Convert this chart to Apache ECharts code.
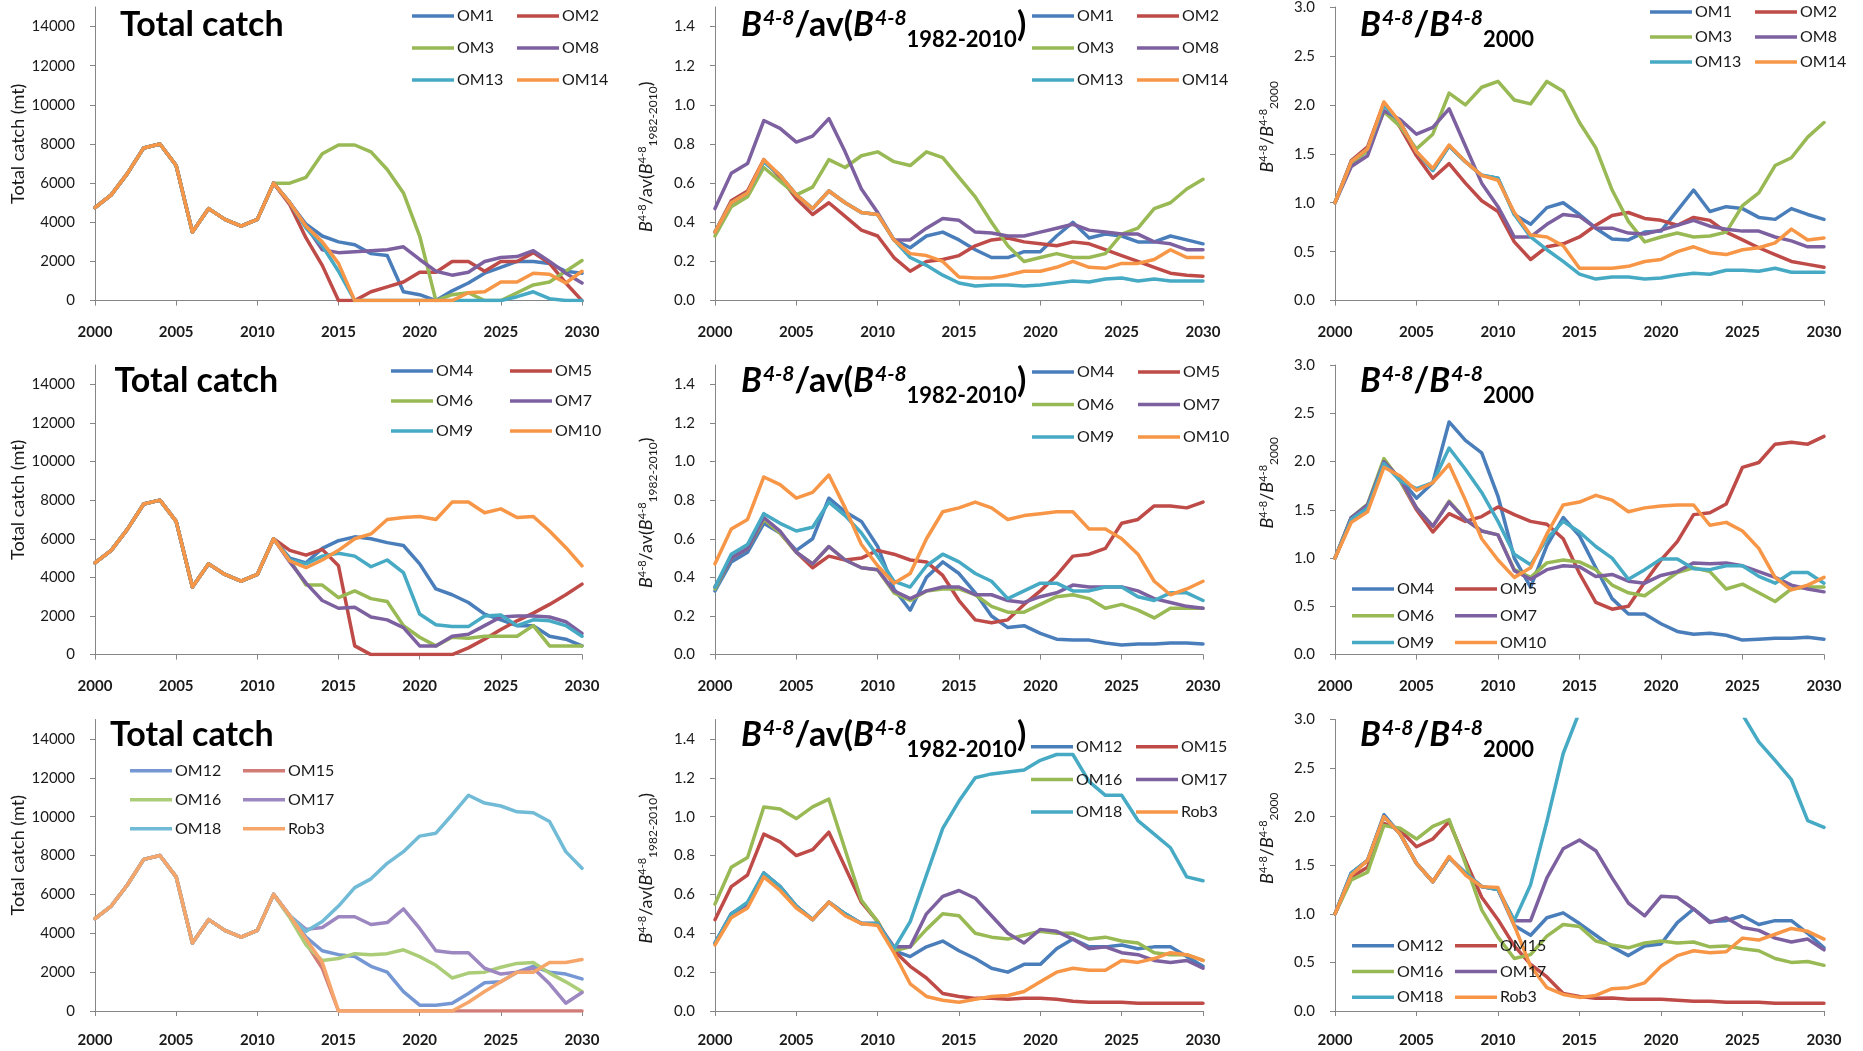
<!DOCTYPE html>
<html>
<head>
<meta charset="utf-8">
<title>Total catch and spawning biomass projections</title>
<script src="https://cdn.jsdelivr.net/npm/echarts@6/dist/echarts.min.js"></script>
<style>
  html, body { margin: 0; padding: 0; background: #ffffff; }
  #chart { width: 1863px; height: 1051px; }
</style>
</head>
<body>
<div id="chart"></div>
<script>
// ---------------------------------------------------------------
// Data: projection years and series values
// ---------------------------------------------------------------
const years = [2000, 2001, 2002, 2003, 2004, 2005, 2006, 2007, 2008, 2009, 2010,
               2011, 2012, 2013, 2014, 2015, 2016, 2017, 2018, 2019, 2020,
               2021, 2022, 2023, 2024, 2025, 2026, 2027, 2028, 2029, 2030];

// Observed total catch 2000-2011 (mt), common to every operating model
const catchHistory = [4750, 5400, 6500, 7800, 8000, 6900, 3500, 4700, 4150, 3800, 4150, 6000];

// Projected total catch 2012-2030 (mt)
const catchOM1  = catchHistory.concat([5000, 3900, 3300, 3000, 2850, 2400, 2300, 450, 300, 0, 500, 900, 1400, 1700, 2000, 2000, 1900, 1500, 1400]);
const catchOM2  = catchHistory.concat([4900, 3200, 1800, 0, 0, 450, 700, 950, 1450, 1450, 2000, 2000, 1500, 2000, 2000, 2450, 1900, 900, 0]);
const catchOM3  = catchHistory.concat([6000, 6300, 7500, 7950, 7950, 7600, 6700, 5500, 3300, 0, 300, 400, 0, 0, 400, 800, 950, 1500, 2050]);
const catchOM8  = catchHistory.concat([5000, 3800, 2600, 2450, 2500, 2550, 2600, 2750, 2100, 1500, 1300, 1450, 2000, 2200, 2250, 2550, 2000, 1400, 900]);
const catchOM13 = catchHistory.concat([5000, 3700, 2800, 1500, 0, 0, 0, 0, 0, 0, 0, 0, 0, 0, 200, 450, 100, 0, 0]);
const catchOM14 = catchHistory.concat([5000, 3800, 3000, 1900, 0, 0, 0, 0, 0, 0, 0, 400, 450, 950, 950, 1400, 1350, 900, 1500]);

const catchOM4  = catchHistory.concat([5000, 4750, 5500, 5900, 6100, 6000, 5800, 5650, 4700, 3400, 3100, 2700, 2100, 1800, 1500, 1500, 950, 800, 450]);
const catchOM5  = catchHistory.concat([5400, 5150, 5450, 4600, 450, 0, 0, 0, 0, 0, 0, 350, 800, 1300, 1750, 2150, 2600, 3100, 3650]);
const catchOM6  = catchHistory.concat([4900, 3600, 3600, 2950, 3300, 2900, 2750, 1500, 900, 450, 900, 850, 950, 950, 950, 1500, 450, 450, 450]);
const catchOM7  = catchHistory.concat([4800, 3700, 2800, 2400, 2450, 1950, 1800, 1400, 450, 450, 950, 1050, 1500, 1950, 2000, 2000, 1950, 1700, 1100]);
const catchOM9  = catchHistory.concat([4900, 4700, 5100, 5250, 5100, 4550, 4900, 4250, 2100, 1550, 1450, 1450, 2000, 2050, 1500, 1800, 1750, 1500, 950]);
const catchOM10 = catchHistory.concat([4850, 4500, 4900, 5400, 6000, 6250, 7000, 7100, 7150, 7000, 7900, 7900, 7350, 7550, 7100, 7150, 6400, 5550, 4600]);

const catchOM12 = catchHistory.concat([4900, 3800, 3100, 2900, 2800, 2300, 2000, 1000, 300, 300, 400, 900, 1450, 1500, 2000, 2300, 2000, 1900, 1650]);
const catchOM15 = catchHistory.concat([4900, 3500, 2200, 0, 0, 0, 0, 0, 0, 0, 0, 0, 0, 0, 0, 0, 0, 0, 0]);
const catchOM16 = catchHistory.concat([4800, 3400, 2600, 2700, 2950, 2900, 2950, 3150, 2800, 2350, 1700, 1950, 2000, 2250, 2450, 2500, 1950, 1500, 1000]);
const catchOM17 = catchHistory.concat([4900, 4200, 4300, 4850, 4850, 4450, 4550, 5250, 4250, 3100, 3000, 3000, 2200, 1900, 2000, 2200, 1400, 400, 950]);
const catchOM18 = catchHistory.concat([4900, 4100, 4600, 5400, 6350, 6800, 7600, 8200, 9000, 9150, 10100, 11100, 10700, 10550, 10250, 10200, 9750, 8200, 7350]);
const catchRob3 = catchHistory.concat([4900, 3700, 2500, 0, 0, 0, 0, 0, 0, 0, 0, 450, 1000, 1500, 2000, 2000, 2500, 2500, 2650]);

// B(4-8) relative to its 1982-2010 average
const relOM1  = [0.35, 0.50, 0.55, 0.71, 0.64, 0.54, 0.47, 0.56, 0.50, 0.45, 0.44, 0.31, 0.27, 0.33, 0.35, 0.31, 0.26, 0.22, 0.22, 0.25, 0.25, 0.33, 0.40, 0.32, 0.34, 0.33, 0.30, 0.30, 0.33, 0.31, 0.29];
const relOM2  = [0.35, 0.51, 0.56, 0.72, 0.63, 0.52, 0.44, 0.50, 0.43, 0.36, 0.33, 0.22, 0.15, 0.20, 0.21, 0.23, 0.28, 0.31, 0.32, 0.30, 0.29, 0.28, 0.30, 0.29, 0.26, 0.23, 0.20, 0.17, 0.14, 0.13, 0.125];
const relOM3  = [0.33, 0.48, 0.53, 0.68, 0.61, 0.54, 0.58, 0.72, 0.68, 0.74, 0.76, 0.71, 0.69, 0.76, 0.73, 0.63, 0.53, 0.40, 0.28, 0.20, 0.22, 0.24, 0.22, 0.22, 0.24, 0.34, 0.37, 0.47, 0.50, 0.57, 0.62];
const relOM8  = [0.47, 0.65, 0.70, 0.92, 0.88, 0.81, 0.84, 0.93, 0.76, 0.57, 0.45, 0.31, 0.31, 0.37, 0.42, 0.41, 0.35, 0.345, 0.33, 0.33, 0.35, 0.37, 0.39, 0.36, 0.35, 0.34, 0.34, 0.30, 0.29, 0.26, 0.26];
const relOM13 = [0.35, 0.50, 0.55, 0.71, 0.64, 0.54, 0.47, 0.56, 0.50, 0.45, 0.44, 0.31, 0.22, 0.18, 0.13, 0.09, 0.075, 0.08, 0.08, 0.075, 0.08, 0.09, 0.10, 0.095, 0.11, 0.115, 0.10, 0.11, 0.10, 0.10, 0.10];
const relOM14 = [0.35, 0.50, 0.55, 0.72, 0.64, 0.54, 0.47, 0.56, 0.50, 0.45, 0.44, 0.31, 0.24, 0.23, 0.20, 0.12, 0.115, 0.115, 0.13, 0.15, 0.15, 0.17, 0.20, 0.17, 0.165, 0.19, 0.19, 0.21, 0.26, 0.22, 0.22];

const relOM4  = [0.33, 0.48, 0.53, 0.68, 0.63, 0.54, 0.60, 0.81, 0.74, 0.69, 0.56, 0.34, 0.23, 0.40, 0.48, 0.42, 0.32, 0.20, 0.14, 0.15, 0.11, 0.08, 0.075, 0.075, 0.06, 0.05, 0.055, 0.055, 0.06, 0.06, 0.055];
const relOM5  = [0.35, 0.50, 0.55, 0.70, 0.63, 0.53, 0.45, 0.51, 0.49, 0.50, 0.54, 0.52, 0.49, 0.48, 0.41, 0.28, 0.18, 0.165, 0.18, 0.26, 0.33, 0.41, 0.51, 0.52, 0.55, 0.68, 0.70, 0.77, 0.77, 0.76, 0.79];
const relOM6  = [0.34, 0.50, 0.55, 0.70, 0.63, 0.53, 0.47, 0.56, 0.49, 0.45, 0.44, 0.32, 0.28, 0.33, 0.34, 0.34, 0.31, 0.25, 0.22, 0.22, 0.26, 0.30, 0.31, 0.29, 0.24, 0.26, 0.23, 0.19, 0.24, 0.24, 0.24];
const relOM7  = [0.35, 0.50, 0.55, 0.71, 0.64, 0.53, 0.47, 0.56, 0.49, 0.45, 0.44, 0.33, 0.29, 0.33, 0.35, 0.35, 0.31, 0.31, 0.28, 0.27, 0.30, 0.32, 0.36, 0.35, 0.35, 0.35, 0.33, 0.29, 0.27, 0.25, 0.24];
const relOM9  = [0.35, 0.52, 0.57, 0.73, 0.68, 0.64, 0.66, 0.79, 0.72, 0.63, 0.51, 0.38, 0.35, 0.46, 0.52, 0.48, 0.42, 0.38, 0.29, 0.33, 0.37, 0.37, 0.33, 0.33, 0.35, 0.35, 0.30, 0.28, 0.32, 0.32, 0.28];
const relOM10 = [0.47, 0.65, 0.70, 0.92, 0.88, 0.81, 0.84, 0.93, 0.76, 0.57, 0.46, 0.37, 0.42, 0.60, 0.74, 0.76, 0.79, 0.76, 0.70, 0.72, 0.73, 0.74, 0.74, 0.65, 0.65, 0.60, 0.52, 0.38, 0.31, 0.34, 0.38];

const relOM12 = [0.35, 0.50, 0.55, 0.71, 0.64, 0.54, 0.47, 0.56, 0.50, 0.45, 0.45, 0.31, 0.28, 0.33, 0.36, 0.31, 0.27, 0.22, 0.20, 0.24, 0.24, 0.32, 0.37, 0.33, 0.33, 0.34, 0.32, 0.33, 0.33, 0.28, 0.23];
const relOM15 = [0.47, 0.64, 0.70, 0.91, 0.87, 0.80, 0.83, 0.92, 0.74, 0.56, 0.46, 0.31, 0.23, 0.17, 0.09, 0.075, 0.065, 0.065, 0.06, 0.065, 0.065, 0.06, 0.05, 0.045, 0.045, 0.045, 0.04, 0.04, 0.04, 0.04, 0.04];
const relOM16 = [0.55, 0.74, 0.79, 1.05, 1.04, 0.99, 1.05, 1.09, 0.83, 0.57, 0.46, 0.31, 0.33, 0.42, 0.50, 0.49, 0.40, 0.38, 0.37, 0.39, 0.41, 0.40, 0.40, 0.37, 0.38, 0.36, 0.35, 0.30, 0.29, 0.29, 0.26];
const relOM17 = [0.35, 0.50, 0.55, 0.71, 0.64, 0.54, 0.47, 0.56, 0.50, 0.45, 0.45, 0.33, 0.33, 0.50, 0.59, 0.62, 0.58, 0.49, 0.40, 0.35, 0.42, 0.41, 0.37, 0.32, 0.33, 0.30, 0.29, 0.26, 0.25, 0.26, 0.22];
const relOM18 = [0.35, 0.50, 0.56, 0.71, 0.64, 0.54, 0.47, 0.56, 0.50, 0.45, 0.45, 0.32, 0.46, 0.70, 0.94, 1.08, 1.20, 1.22, 1.23, 1.24, 1.29, 1.32, 1.32, 1.18, 1.11, 1.11, 0.98, 0.91, 0.84, 0.69, 0.67];
const relRob3 = [0.34, 0.48, 0.53, 0.69, 0.62, 0.53, 0.47, 0.56, 0.49, 0.45, 0.44, 0.30, 0.14, 0.075, 0.055, 0.045, 0.06, 0.075, 0.08, 0.10, 0.15, 0.20, 0.22, 0.21, 0.21, 0.26, 0.25, 0.27, 0.30, 0.29, 0.26];

// B(4-8) relative to its 2000 level
const b00OM1  = [1.0, 1.42, 1.55, 2.0, 1.82, 1.52, 1.33, 1.58, 1.42, 1.28, 1.25, 0.88, 0.78, 0.95, 1.0, 0.88, 0.74, 0.63, 0.62, 0.70, 0.71, 0.92, 1.13, 0.91, 0.96, 0.94, 0.85, 0.83, 0.94, 0.88, 0.83];
const b00OM2  = [1.0, 1.43, 1.57, 2.02, 1.77, 1.48, 1.25, 1.40, 1.20, 1.02, 0.91, 0.60, 0.42, 0.55, 0.58, 0.65, 0.77, 0.87, 0.90, 0.84, 0.82, 0.77, 0.85, 0.82, 0.70, 0.62, 0.54, 0.47, 0.40, 0.37, 0.34];
const b00OM3  = [1.0, 1.40, 1.53, 1.93, 1.78, 1.55, 1.70, 2.12, 2.00, 2.18, 2.24, 2.05, 2.01, 2.24, 2.14, 1.82, 1.56, 1.13, 0.81, 0.60, 0.65, 0.69, 0.65, 0.66, 0.70, 0.97, 1.10, 1.38, 1.46, 1.67, 1.82];
const b00OM8  = [1.0, 1.37, 1.48, 1.94, 1.85, 1.70, 1.77, 1.96, 1.58, 1.20, 0.96, 0.65, 0.65, 0.78, 0.88, 0.86, 0.74, 0.74, 0.69, 0.68, 0.72, 0.77, 0.82, 0.76, 0.73, 0.71, 0.71, 0.65, 0.61, 0.55, 0.55];
const b00OM13 = [1.0, 1.42, 1.55, 2.0, 1.82, 1.52, 1.33, 1.58, 1.42, 1.28, 1.25, 0.88, 0.65, 0.52, 0.40, 0.27, 0.22, 0.24, 0.24, 0.22, 0.23, 0.26, 0.28, 0.27, 0.31, 0.31, 0.30, 0.33, 0.29, 0.29, 0.29];
const b00OM14 = [1.0, 1.42, 1.55, 2.03, 1.82, 1.52, 1.35, 1.59, 1.42, 1.28, 1.23, 0.90, 0.67, 0.65, 0.56, 0.33, 0.33, 0.33, 0.35, 0.40, 0.42, 0.50, 0.55, 0.49, 0.47, 0.52, 0.54, 0.59, 0.73, 0.62, 0.64];

const b00OM4  = [1.0, 1.42, 1.52, 2.0, 1.82, 1.62, 1.78, 2.41, 2.22, 2.09, 1.64, 1.00, 0.70, 1.13, 1.42, 1.23, 0.90, 0.58, 0.42, 0.42, 0.32, 0.24, 0.21, 0.22, 0.20, 0.15, 0.16, 0.17, 0.17, 0.18, 0.16];
const b00OM5  = [1.0, 1.40, 1.53, 2.01, 1.80, 1.50, 1.27, 1.46, 1.38, 1.43, 1.53, 1.45, 1.38, 1.35, 1.20, 0.84, 0.54, 0.47, 0.50, 0.75, 0.98, 1.17, 1.45, 1.47, 1.56, 1.94, 1.99, 2.18, 2.20, 2.18, 2.26];
const b00OM6  = [1.0, 1.42, 1.56, 2.03, 1.80, 1.52, 1.33, 1.59, 1.40, 1.28, 1.24, 0.88, 0.80, 0.95, 0.98, 0.96, 0.88, 0.72, 0.64, 0.61, 0.73, 0.85, 0.90, 0.86, 0.68, 0.73, 0.64, 0.55, 0.68, 0.70, 0.70];
const b00OM7  = [1.0, 1.42, 1.55, 2.0, 1.82, 1.52, 1.33, 1.58, 1.40, 1.28, 1.24, 0.87, 0.78, 0.88, 0.92, 0.91, 0.81, 0.83, 0.76, 0.74, 0.82, 0.86, 0.95, 0.94, 0.95, 0.92, 0.86, 0.80, 0.72, 0.68, 0.65];
const b00OM9  = [1.0, 1.40, 1.52, 1.98, 1.80, 1.72, 1.78, 2.14, 1.92, 1.68, 1.38, 1.04, 0.93, 1.20, 1.38, 1.27, 1.12, 1.00, 0.78, 0.88, 0.99, 0.99, 0.89, 0.88, 0.92, 0.92, 0.81, 0.74, 0.85, 0.85, 0.74];
const b00OM10 = [1.0, 1.37, 1.48, 1.94, 1.85, 1.70, 1.78, 1.97, 1.60, 1.20, 0.98, 0.80, 0.90, 1.25, 1.55, 1.58, 1.65, 1.60, 1.48, 1.52, 1.54, 1.55, 1.55, 1.34, 1.37, 1.28, 1.10, 0.80, 0.67, 0.72, 0.80];

const b00OM12 = [1.0, 1.42, 1.55, 2.02, 1.82, 1.52, 1.33, 1.58, 1.42, 1.28, 1.25, 0.88, 0.78, 0.96, 1.01, 0.90, 0.78, 0.66, 0.57, 0.67, 0.69, 0.91, 1.05, 0.92, 0.93, 0.98, 0.89, 0.93, 0.93, 0.80, 0.65];
const b00OM15 = [1.0, 1.38, 1.48, 1.93, 1.86, 1.69, 1.77, 1.95, 1.55, 1.17, 0.94, 0.67, 0.48, 0.35, 0.18, 0.15, 0.13, 0.135, 0.12, 0.12, 0.12, 0.11, 0.10, 0.10, 0.09, 0.09, 0.09, 0.08, 0.08, 0.08, 0.08];
const b00OM16 = [1.0, 1.35, 1.43, 1.91, 1.88, 1.77, 1.90, 1.97, 1.52, 1.04, 0.76, 0.54, 0.58, 0.77, 0.89, 0.87, 0.72, 0.68, 0.65, 0.70, 0.72, 0.70, 0.71, 0.66, 0.67, 0.64, 0.62, 0.54, 0.50, 0.51, 0.47];
const b00OM17 = [1.0, 1.42, 1.55, 2.0, 1.82, 1.52, 1.33, 1.58, 1.42, 1.28, 1.25, 0.93, 0.93, 1.37, 1.67, 1.76, 1.65, 1.37, 1.11, 0.98, 1.18, 1.17, 1.05, 0.91, 0.96, 0.86, 0.83, 0.75, 0.71, 0.74, 0.63];
const b00OM18 = [1.0, 1.42, 1.55, 2.0, 1.82, 1.52, 1.33, 1.58, 1.42, 1.28, 1.25, 0.93, 1.30, 1.95, 2.65, 3.08, 3.43, 3.49, 3.51, 3.54, 3.69, 3.77, 3.77, 3.37, 3.17, 3.05, 2.77, 2.58, 2.38, 1.96, 1.89];
const b00Rob3 = [1.0, 1.40, 1.55, 2.0, 1.82, 1.52, 1.33, 1.59, 1.40, 1.28, 1.27, 0.88, 0.46, 0.24, 0.17, 0.14, 0.16, 0.23, 0.24, 0.29, 0.46, 0.57, 0.62, 0.60, 0.61, 0.75, 0.73, 0.79, 0.85, 0.82, 0.74];

// Operating model groups (one row of panels each)
const groupA = ['OM1', 'OM2', 'OM3', 'OM8', 'OM13', 'OM14'];
const groupB = ['OM4', 'OM5', 'OM6', 'OM7', 'OM9', 'OM10'];
const groupC = ['OM12', 'OM15', 'OM16', 'OM17', 'OM18', 'Rob3'];

// Axis tick labels
const catchTicks = [0, 2000, 4000, 6000, 8000, 10000, 12000, 14000];
const relTicks = [0, 0.2, 0.4, 0.6, 0.8, 1.0, 1.2, 1.4];
const b00Ticks = [0, 0.5, 1.0, 1.5, 2.0, 2.5, 3.0];

// ---------------------------------------------------------------
// Styling and layout
// ---------------------------------------------------------------
const FONT = 'Lato, "Open Sans", "DejaVu Sans", sans-serif';
const TEXT = '#1a1a1a';
const AXIS = '#868686';
const palette = ['#4A7EBB', '#BE4B48', '#98B954', '#7D60A0', '#46AAC5', '#F79646'];
const paletteSoft = ['#7597D3', '#D27C78', '#ACCD78', '#9C87C1', '#71BBD7', '#F6A66B'];

const colLeft = [95, 715, 1335];
const colWidth = [487, 488, 489];
const rowTop = [7, 365, 719.5];
const rowBottom = [300.6, 654.6, 1011];

const panels = [
  { row: 0, col: 0, kind: 'catch', names: groupA, values: [catchOM1, catchOM2, catchOM3, catchOM8, catchOM13, catchOM14], colors: palette, legX: [412, 517], legTop: 8, legGap: 16 },
  { row: 0, col: 1, kind: 'rel',   names: groupA, values: [relOM1, relOM2, relOM3, relOM8, relOM13, relOM14], colors: palette, legX: [1032, 1137], legTop: 8, legGap: 16 },
  { row: 0, col: 2, kind: 'b00',   names: groupA, values: [b00OM1, b00OM2, b00OM3, b00OM8, b00OM13, b00OM14], colors: palette, legX: [1650, 1755], legTop: 4, legGap: 9 },
  { row: 1, col: 0, kind: 'catch', names: groupB, values: [catchOM4, catchOM5, catchOM6, catchOM7, catchOM9, catchOM10], colors: palette, legX: [391, 510], legTop: 363, legGap: 14 },
  { row: 1, col: 1, kind: 'rel',   names: groupB, values: [relOM4, relOM5, relOM6, relOM7, relOM9, relOM10], colors: palette, legX: [1032, 1138], legTop: 364, legGap: 16.5 },
  { row: 1, col: 2, kind: 'b00',   names: groupB, values: [b00OM4, b00OM5, b00OM6, b00OM7, b00OM9, b00OM10], colors: palette, legX: [1352, 1455], legTop: 581, legGap: 10.7 },
  { row: 2, col: 0, kind: 'catch', names: groupC, values: [catchOM12, catchOM15, catchOM16, catchOM17, catchOM18, catchRob3], colors: paletteSoft, legX: [130, 243], legTop: 762.7, legGap: 13 },
  { row: 2, col: 1, kind: 'rel',   names: groupC, values: [relOM12, relOM15, relOM16, relOM17, relOM18, relRob3], colors: palette, legX: [1031, 1136], legTop: 738.7, legGap: 16.7 },
  { row: 2, col: 2, kind: 'b00',   names: groupC, values: [b00OM12, b00OM15, b00OM16, b00OM17, b00OM18, b00Rob3], colors: palette, legX: [1352, 1455], legTop: 937.7, legGap: 9.8 }
];

// Rich-text pieces for the biomass labels
const titleRich = {
  b:  { fontFamily: FONT, fontSize: 34, fontWeight: 'bold', fontStyle: 'italic', color: '#000', lineHeight: 34, verticalAlign: 'top' },
  n:  { fontFamily: FONT, fontSize: 34, fontWeight: 'bold', color: '#000', lineHeight: 34, verticalAlign: 'top' },
  sp: { fontFamily: FONT, fontSize: 21, fontWeight: 'bold', fontStyle: 'italic', color: '#000', lineHeight: 21, verticalAlign: 'top', padding: [0, 0, 0, 1] },
  sb: { fontFamily: FONT, fontSize: 22, fontWeight: 'bold', color: '#000', lineHeight: 22, verticalAlign: 'top', padding: [21, 0, 0, 0] }
};
const nameRich = {
  b:  { fontFamily: FONT, fontSize: 18, fontStyle: 'italic', color: TEXT, lineHeight: 18, verticalAlign: 'top' },
  n:  { fontFamily: FONT, fontSize: 18, color: TEXT, lineHeight: 18, verticalAlign: 'top' },
  sp: { fontFamily: FONT, fontSize: 11, color: TEXT, lineHeight: 11, verticalAlign: 'top' },
  sb: { fontFamily: FONT, fontSize: 12, color: TEXT, lineHeight: 12, verticalAlign: 'top', padding: [10, 0, 0, 0] }
};
const relText = '{b|B}{sp|4-8}{n|/av(}{b|B}{sp|4-8}{sb|1982-2010}{n|)}';
const b00Text = '{b|B}{sp|4-8}{n|/}{b|B}{sp|4-8}{sb|2000}';

const kinds = {
  catch: { max: 15000, ticks: catchTicks, fmt: v => String(v), name: 'Total catch (mt)', nameGap: 66, namePad: [0, 0, 0, 20], rich: null },
  rel:   { max: 1.5, ticks: relTicks, fmt: v => v.toFixed(1), name: relText, nameGap: 60, namePad: [0, 6, 0, 0], rich: nameRich },
  b00:   { max: 3, ticks: b00Ticks, fmt: v => v.toFixed(1), name: b00Text, nameGap: 59, namePad: [0, 0, 0, 54], rich: nameRich }
};

// ---------------------------------------------------------------
// Build the option
// ---------------------------------------------------------------
const grid = [], xAxis = [], yAxis = [], series = [], legend = [];

panels.forEach((p, i) => {
  const k = kinds[p.kind];
  grid.push({
    left: colLeft[p.col], top: rowTop[p.row],
    width: colWidth[p.col], height: rowBottom[p.row] - rowTop[p.row],
    outerBoundsMode: 'none'
  });
  xAxis.push({
    gridIndex: i, type: 'value', min: 2000, max: 2030, interval: 5,
    axisLine: { show: true, lineStyle: { color: AXIS, width: 1 } },
    axisTick: { show: true, length: 5, lineStyle: { color: AXIS } },
    axisLabel: { margin: p.row === 2 ? 22 : 24, fontFamily: FONT, fontSize: 15, fontWeight: 'bold', color: TEXT,
                 formatter: v => String(v) },
    splitLine: { show: false }
  });
  const nameStyle = { fontFamily: FONT, fontSize: 18, color: TEXT, padding: k.namePad };
  if (k.rich) nameStyle.rich = k.rich;
  yAxis.push({
    gridIndex: i, type: 'value', min: 0, max: k.max,
    name: k.name, nameLocation: 'middle', nameRotate: 90, nameGap: k.nameGap,
    nameTextStyle: nameStyle,
    axisLine: { show: true, lineStyle: { color: AXIS, width: 1 } },
    axisTick: { show: true, length: 5, lineStyle: { color: AXIS }, customValues: k.ticks },
    axisLabel: { margin: 20, fontFamily: FONT, fontSize: 15, color: TEXT, customValues: k.ticks, formatter: k.fmt },
    splitLine: { show: false }
  });
  p.names.forEach((name, j) => {
    series.push({
      type: 'line', name: name, xAxisIndex: i, yAxisIndex: i,
      data: years.map((yr, t) => [yr, p.values[j][t]]),
      showSymbol: false, symbol: 'none', clip: true, silent: true,
      lineStyle: { width: 3.5, color: p.colors[j], join: 'round', cap: 'round' },
      itemStyle: { color: p.colors[j] },
      emphasis: { disabled: true }
    });
  });
  // two legend columns per panel
  [0, 1].forEach(c => {
    legend.push({
      orient: 'vertical', left: p.legX[c], top: p.legTop,
      itemGap: p.legGap, itemWidth: 42, itemHeight: 3.5, icon: 'rect',
      padding: 0, selectedMode: false,
      textStyle: { fontFamily: FONT, fontSize: 16, color: TEXT, padding: [0, 0, 0, -2] },
      data: [c, c + 2, c + 4].map(j => ({ name: p.names[j], itemStyle: { color: p.colors[j] } }))
    });
  });
});

const title = [];
const catchTitlePos = [[120, 8], [114.5, 364], [110, 718]];
const bioTitleTop = [8, 364, 718];
catchTitlePos.forEach(([x, y]) => {
  title.push({ text: 'Total catch', left: x, top: y, padding: 0,
    textStyle: { fontFamily: FONT, fontSize: 34, fontWeight: 'bold', color: '#000' } });
});
bioTitleTop.forEach(y => {
  title.push({ text: relText, left: 741, top: y, padding: 0, textStyle: { rich: titleRich } });
  title.push({ text: b00Text, left: 1360, top: y, padding: 0, textStyle: { rich: titleRich } });
});

const chart = echarts.init(document.getElementById('chart'), null, { renderer: 'canvas' });
chart.setOption({
  animation: false,
  backgroundColor: '#ffffff',
  title, legend, grid, xAxis, yAxis, series
});
</script>
</body>
</html>
